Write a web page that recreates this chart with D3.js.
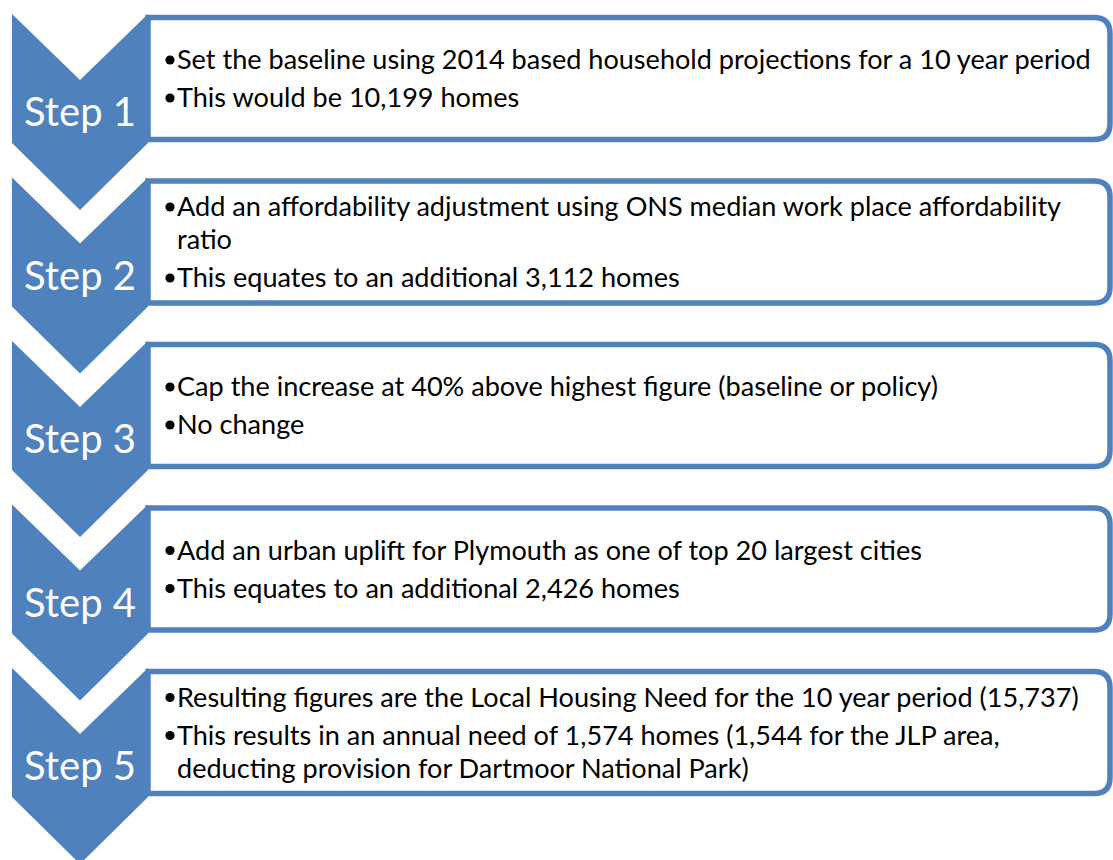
<!DOCTYPE html>
<html>
<head>
<meta charset="utf-8">
<script src="https://cdn.jsdelivr.net/npm/d3@7"></script>
<style>
  body { margin: 0; background: #fff; }
  svg { display: block; }
</style>
</head>
<body>
<div class="diagram"></div>
<script>
// Step labels shown in the chevrons
var stepLabels = ["Step 1", "Step 2", "Step 3", "Step 4", "Step 5"];

// Bullets for every step, each bullet is a list of its wrapped lines
var step1Bullets = [
  ["Set the baseline using 2014 based household projections for a 10 year period"],
  ["This would be 10,199 homes"]
];
var step2Bullets = [
  ["Add an affordability adjustment using ONS median work place affordability", "ratio"],
  ["This equates to an additional 3,112 homes"]
];
var step3Bullets = [
  ["Cap the increase at 40% above highest figure (baseline or policy)"],
  ["No change"]
];
var step4Bullets = [
  ["Add an urban uplift for Plymouth as one of top 20 largest cities"],
  ["This equates to an additional 2,426 homes"]
];
var step5Bullets = [
  ["Resulting figures are the Local Housing Need for the 10 year period (15,737)"],
  ["This results in an annual need of 1,574 homes (1,544 for the JLP area,", "deducting provision for Dartmoor National Park)"]
];
var allBullets = [step1Bullets, step2Bullets, step3Bullets, step4Bullets, step5Bullets];

var width = 1113, height = 860;
var blue = "#4F81BD";
var font = "Lato, 'Open Sans', sans-serif";

var svg = d3.select(".diagram")
  .append("svg")
  .attr("width", width)
  .attr("height", height);

svg.append("rect")
  .attr("width", width)
  .attr("height", height)
  .attr("fill", "#fff");

// One band per step, bands overlap the chevron tips
var y = d3.scaleBand()
  .domain(stepLabels)
  .range([14, 14 + 163.5 * stepLabels.length])
  .paddingInner(0)
  .paddingOuter(0);

// Chevron shape and box sizes
var chevL = 12, chevR = 148, chevMid = 80,
    notch = 66, side = 129, tip = 196;
var boxTop = 3.5, boxBottom = 125.5, boxRight = 1110, boxRadius = 16;

// work out font sizes so line widths match the original
function fitSize(text, base, target) {
  var t = svg.append("text")
    .attr("font-family", font)
    .attr("font-size", base)
    .text(text);
  var w = t.node().getComputedTextLength();
  t.remove();
  return base * target / w;
}
var bodySize = fitSize(step1Bullets[0][0], 27, 914);
var stepSize = fitSize("Step 1", 44, 112);

// text boxes with rounded right corners
function boxPath(top) {
  var t = top + boxTop, b = top + boxBottom, r = boxRadius, l = chevR;
  return "M" + l + "," + t +
    "L" + (boxRight - r) + "," + t +
    "Q" + boxRight + "," + t + " " + boxRight + "," + (t + r) +
    "L" + boxRight + "," + (b - r) +
    "Q" + boxRight + "," + b + " " + (boxRight - r) + "," + b +
    "L" + l + "," + b + "Z";
}

var steps = svg.selectAll(".step")
  .data(stepLabels.map(function(d, i) { return {label: d, bullets: allBullets[i]}; }))
  .enter()
  .append("g")
  .attr("class", "step");

steps.append("path")
  .attr("class", "box")
  .attr("d", function(d) { return boxPath(y(d.label)); })
  .attr("fill", "#fff")
  .attr("stroke", blue)
  .attr("stroke-width", 5.5);

// bullet text, centred in the box
steps.each(function(d) {
  var g = d3.select(this);
  var top = y(d.label);
  var center = top + (boxTop + boxBottom) / 2;
  var lines = [], off = 0;
  d.bullets.forEach(function(b, bi) {
    if (bi > 0) off += 38;
    b.forEach(function(line, li) {
      if (li > 0) off += 33;
      lines.push({text: line, first: li === 0, off: off});
    });
  });
  var mid = off / 2;
  lines.forEach(function(l) {
    var by = center + 9.5 + l.off - mid;
    if (l.first) {
      // bullet dot, Calibri style is quite big
      g.append("circle")
        .attr("cx", 170)
        .attr("cy", by - 9)
        .attr("r", 4.6)
        .attr("fill", "#000");
    }
    g.append("text")
      .attr("x", 177)
      .attr("y", by)
      .attr("font-family", font)
      .attr("font-size", bodySize)
      .attr("fill", "#000")
      .text(l.text);
  });
});

// chevrons go on top of the boxes
steps.append("path")
  .attr("class", "chevron")
  .attr("d", function(d) {
    var t = y(d.label);
    return "M" + chevL + "," + t +
      "L" + chevMid + "," + (t + notch) +
      "L" + chevR + "," + t +
      "L" + chevR + "," + (t + side) +
      "L" + chevMid + "," + (t + tip) +
      "L" + chevL + "," + (t + side) + "Z";
  })
  .attr("fill", blue);

steps.append("text")
  .attr("x", chevMid)
  .attr("y", function(d) { return y(d.label) + 112; })
  .attr("text-anchor", "middle")
  .attr("font-family", font)
  .attr("font-size", stepSize)
  .attr("fill", "#fff")
  .text(function(d) { return d.label; });
</script>
</body>
</html>
